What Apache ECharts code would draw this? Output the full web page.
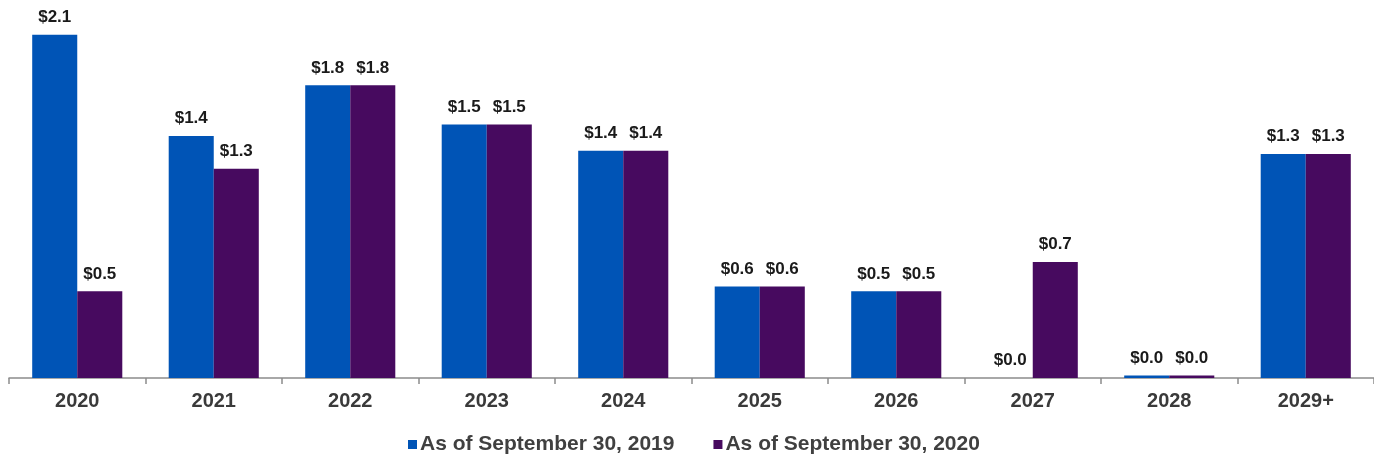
<!DOCTYPE html>
<html>
<head>
<meta charset="utf-8">
<script src="https://cdn.jsdelivr.net/npm/echarts@6/dist/echarts.min.js"></script>
<style>
  html, body { margin: 0; padding: 0; background: #fff; }
  #chart { width: 1374px; height: 460px; }
</style>
</head>
<body>
<div id="chart"></div>
<script>
// maturities, $ billions
const years = ['2020', '2021', '2022', '2023', '2024', '2025', '2026', '2027', '2028', '2029+']
const sep2019 = [2.1, 1.48, 1.79, 1.55, 1.39, 0.56, 0.53, 0, 0.015, 1.37]
const sep2020 = [0.53, 1.28, 1.79, 1.55, 1.39, 0.56, 0.53, 0.71, 0.015, 1.37]
const sep2019Labels = ['$2.1', '$1.4', '$1.8', '$1.5', '$1.4', '$0.6', '$0.5', '$0.0', '$0.0', '$1.3']
const sep2020Labels = ['$0.5', '$1.3', '$1.8', '$1.5', '$1.4', '$0.6', '$0.5', '$0.7', '$0.0', '$1.3']

const chart = echarts.init(document.getElementById('chart'))

const labelStyle = (labels) => ({
  show: true,
  position: 'top',
  distance: 9,
  fontFamily: 'Liberation Sans, Arial, sans-serif',
  fontWeight: 'bold',
  fontSize: 17,
  color: '#1a1a1a',
  formatter: (p) => labels[p.dataIndex]
})

chart.setOption({
  animation: false,
  grid: {
    top: 2,
    left: 9,
    right: 0,
    bottom: 82
  },
  legend: {
    top: 429,
    left: 403,
    icon: 'rect',
    itemWidth: 9,
    itemHeight: 9,
    itemGap: 39,
    textStyle: {
      fontFamily: 'Liberation Sans, Arial, sans-serif',
      fontWeight: 'bold',
      fontSize: 21,
      color: '#404040',
      padding: [0, 0, 0, -2]
    },
    data: ['As of September 30, 2019', 'As of September 30, 2020']
  },
  xAxis: {
    type: 'category',
    data: years,
    axisLine: { lineStyle: { color: '#8c8c8c', width: 1.5 } },
    axisTick: { show: true, length: 6, lineStyle: { color: '#8c8c8c', width: 1.5 } },
    axisLabel: {
      margin: 13,
      fontFamily: 'Liberation Sans, Arial, sans-serif',
      fontWeight: 'bold',
      fontSize: 20,
      color: '#3a3a3a'
    }
  },
  yAxis: {
    type: 'value',
    min: 0,
    max: 2.3,
    show: false,
    splitLine: { show: false }
  },
  series: [
    {
      name: 'As of September 30, 2019',
      type: 'bar',
      data: sep2019,
      barGap: '0%',
      barCategoryGap: '34%',
      itemStyle: { color: '#0054b6' },
      label: labelStyle(sep2019Labels)
    },
    {
      name: 'As of September 30, 2020',
      type: 'bar',
      data: sep2020,
      barGap: '0%',
      barCategoryGap: '34%',
      itemStyle: { color: '#470a5f' },
      label: labelStyle(sep2020Labels)
    }
  ]
})
</script>
</body>
</html>
